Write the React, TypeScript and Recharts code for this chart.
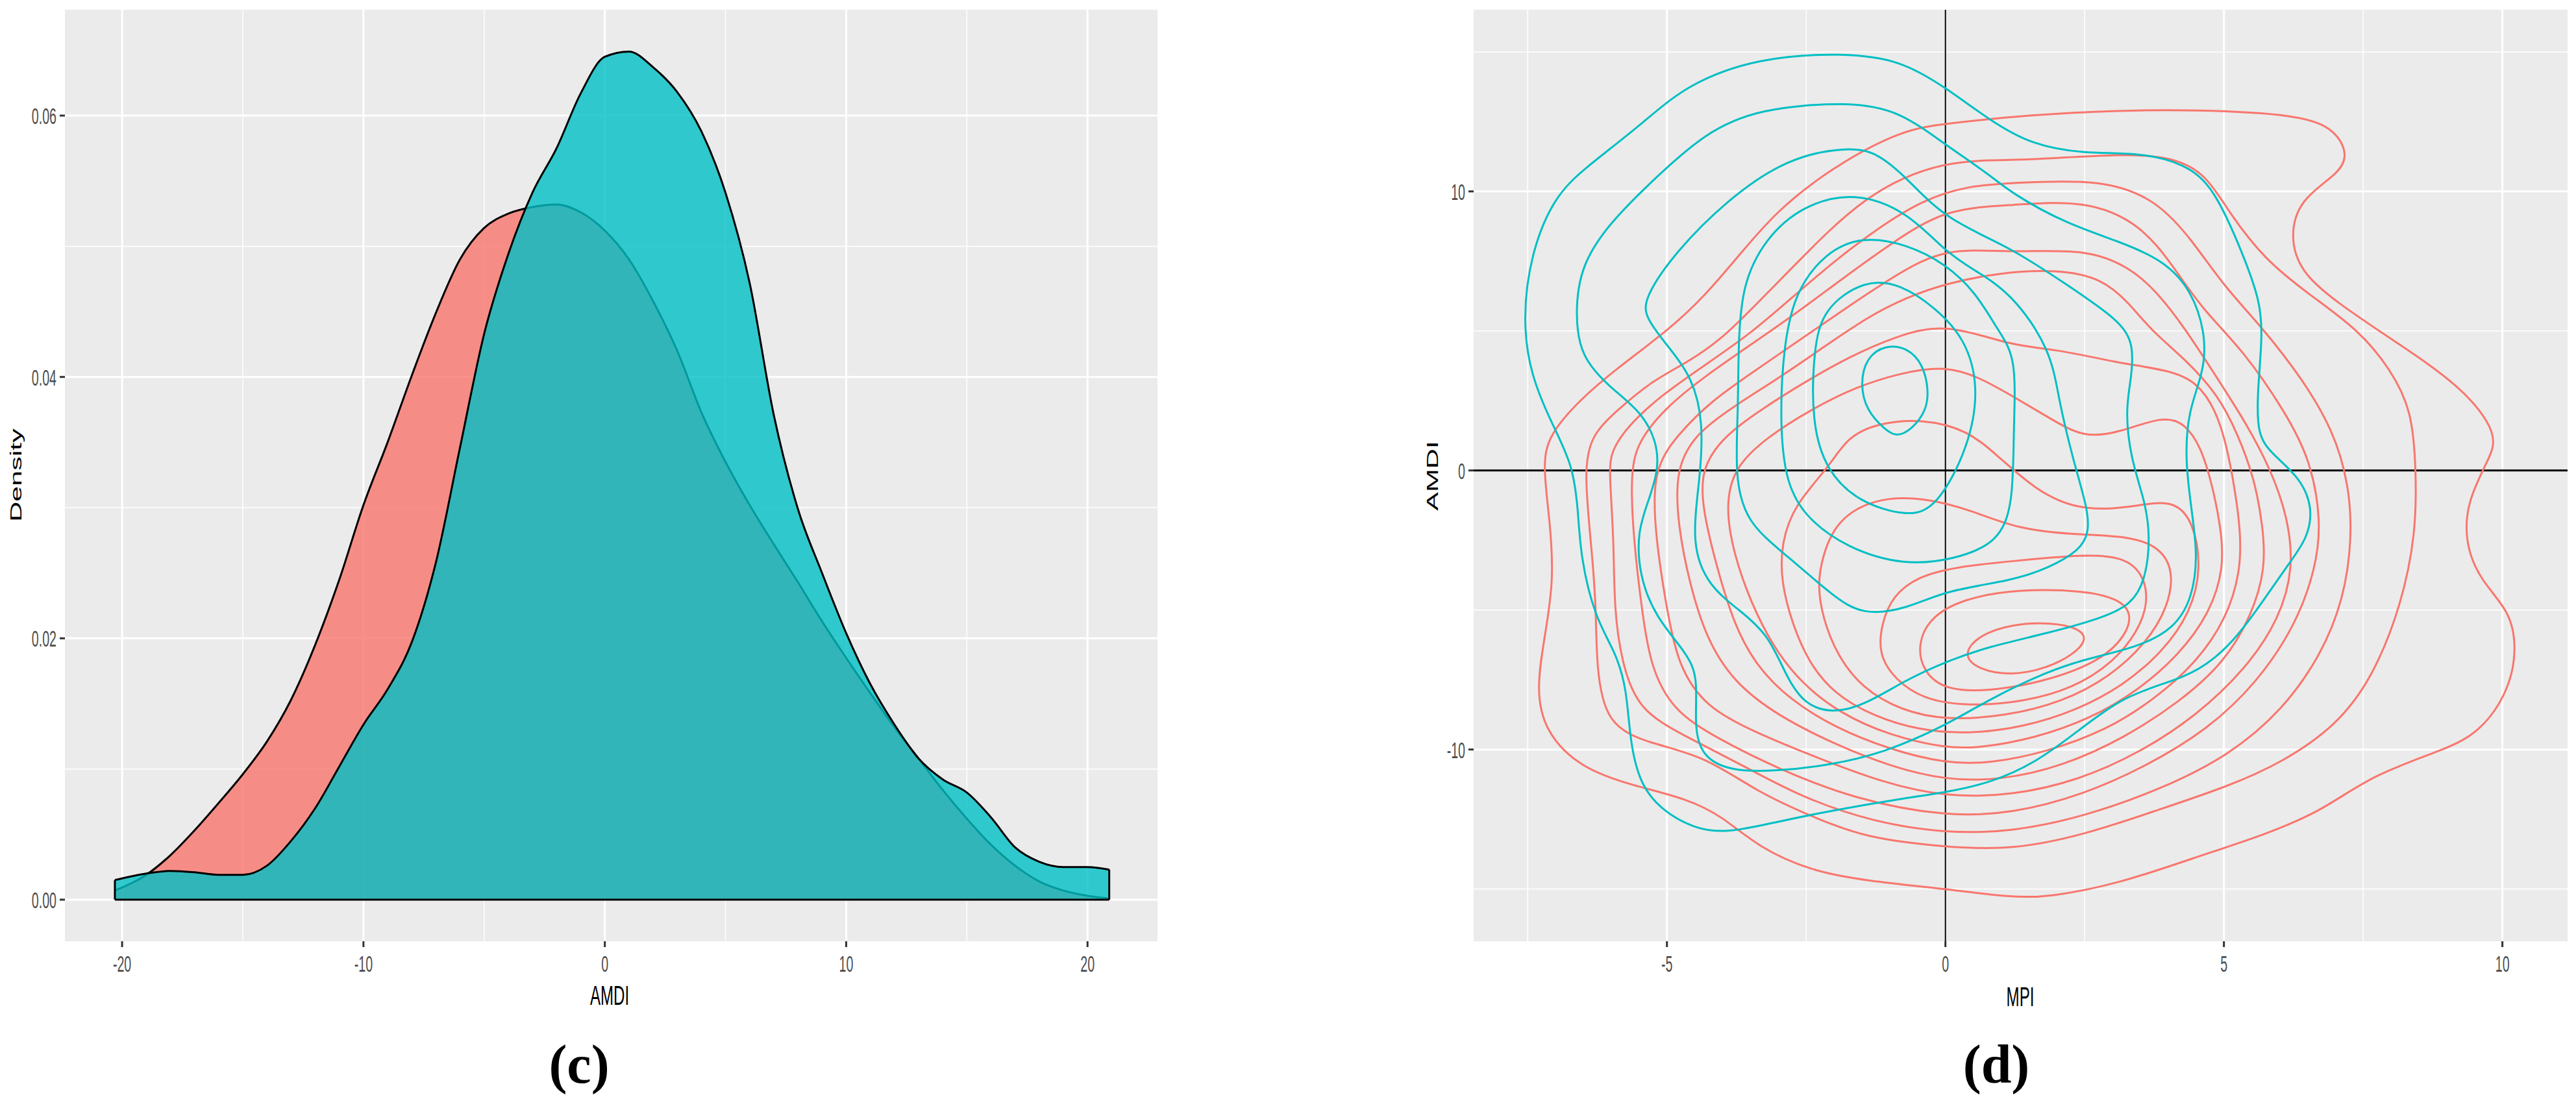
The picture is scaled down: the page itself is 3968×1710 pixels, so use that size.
import React from "react";
import {
  AreaChart,
  Area,
  ScatterChart,
  Scatter,
  XAxis,
  YAxis,
  CartesianGrid,
  ReferenceLine,
} from "recharts";

const SQUEEZE = 0.56;
const SANS = "'Liberation Sans', Arial, sans-serif";
const SERIF = "'Liberation Serif', 'Times New Roman', serif";
const TICK_GREY = "#4D4D4D";
const TICK_LINE = "#333333";
const PANEL_BG = "#EBEBEB";
const RED = "#F8766D";
const TEAL = "#00BFC4";

// ---- panel (c): density of AMDI ----
const AMDI_GRID = [
  -20.3, -19, -18, -17, -16, -15, -14, -13, -12, -11, -10, -9, -8, -7, -6, -5, -4, -3, -2, -1, 0,
  1, 2, 3, 4, 5, 6, 7, 8, 9, 10, 11, 12, 13, 14, 15, 16, 17, 18, 19, 20, 20.9,
];
const RED_DENSITY = [
  0.0007, 0.0019, 0.0034, 0.0053, 0.0074, 0.0096, 0.0121, 0.0153, 0.0195, 0.0245, 0.0302,
  0.035, 0.0401, 0.0449, 0.049, 0.0514, 0.0525, 0.053, 0.0532, 0.0526, 0.0512,
  0.049, 0.0458, 0.042, 0.0373, 0.0335, 0.0302, 0.0272, 0.0243, 0.0213, 0.0185,
  0.0158, 0.0132, 0.0108, 0.0084, 0.0062, 0.0042, 0.0026, 0.0014, 0.0007, 0.0003, 0.0001,
];
const TEAL_DENSITY = [
  0.0015, 0.002, 0.0022, 0.0021, 0.0019, 0.0019, 0.0026, 0.0045, 0.007, 0.0102, 0.0134,
  0.0161, 0.0197, 0.0258, 0.0346, 0.0433, 0.0494, 0.0541, 0.0575, 0.0617, 0.0645,
  0.0649, 0.0637, 0.0618, 0.0588, 0.0541, 0.0472, 0.0371, 0.0299, 0.025, 0.0204,
  0.0165, 0.0134, 0.0108, 0.0092, 0.0082, 0.0063, 0.004, 0.0029, 0.0025, 0.0025, 0.0023,
];
const C_X_TICKS = [-20, -10, 0, 10, 20];
const C_X_MINOR = [-15, -5, 5, 15];
const C_Y_TICKS = [0, 0.02, 0.04, 0.06];
const C_Y_MINOR = [0.01, 0.03, 0.05];

// ---- panel (d): 2d density contours, MPI vs AMDI ----
const RED_1 = [
  [-7.23, 0.17], [-7.13, 1.26], [-6.55, 2.56], [-5.91, 3.64], [-4.96, 5.05], [-4.32, 6.25], [-3.68, 7.77],
  [-3.04, 9.28], [-2.08, 10.8], [-0.8, 12.2], [0, 12.43], [1.55, 12.75], [3.13, 12.9], [4.43, 12.93],
  [6.37, 12.76], [7.02, 12.2], [7.24, 11.24], [7.02, 10.59], [6.37, 9.72], [6.18, 8.42], [6.37, 7.11],
  [7.02, 6.03], [7.99, 4.73], [9.29, 3.0], [9.94, 1.26], [9.75, 0.39], [9.36, -1.13], [9.33, -2.65],
  [9.61, -3.95], [10.13, -5.03], [10.26, -6.33], [10.13, -7.85], [9.61, -9.37], [8.97, -10.0],
  [7.67, -10.9], [6.76, -12.2], [5.73, -13.06], [4.43, -13.9], [3.13, -14.8], [1.84, -15.3],
  [1.19, -15.3], [0, -15.0], [-1.44, -14.7], [-2.4, -14.36], [-3.36, -13.5], [-4.0, -12.4],
  [-4.64, -11.76], [-5.6, -11.3], [-6.55, -10.67], [-7.19, -9.37], [-7.35, -7.85], [-7.19, -5.9],
  [-7.03, -3.95], [-7.1, -1.78],
];
const RED_2 = [
  [-6.49, 0], [-6.36, 1.26], [-5.91, 2.13], [-5.27, 3.21], [-4.64, 3.86], [-4.0, 4.73], [-3.36, 6.03],
  [-2.72, 7.33], [-2.08, 8.63], [-1.44, 9.72], [-0.8, 10.48], [0, 11.02], [0.8, 11.13], [1.55, 11.13],
  [3.13, 11.35], [4.1, 11.24], [4.69, 10.59], [5.08, 9.28], [5.73, 7.55], [6.57, 6.25], [7.41, 5.05],
  [7.99, 3.64], [8.38, 2.13], [8.45, 0], [8.45, -2.21], [8.19, -4.82], [7.67, -7.42], [7.02, -9.15],
  [6.05, -10.46], [5.08, -11.32], [3.78, -12.19], [2.49, -13.06], [1.19, -13.6], [0, -13.5],
  [-1.44, -13.17], [-2.4, -12.4], [-3.36, -11.54], [-4.32, -10.24], [-5.27, -9.8], [-6.1, -9.15],
  [-6.27, -6.98], [-6.27, -4.82], [-6.36, -2.65],
];
const RED_3 = [
  [-6.04, 0], [-6.0, 0.7], [-5.7, 1.6], [-5.1, 2.7], [-4.3, 3.8], [-3.5, 4.9], [-2.75, 6.2], [-2.0, 7.5],
  [-1.2, 8.7], [-0.4, 9.7], [0.4, 10.2], [1.2, 10.3], [2.8, 10.45], [3.8, 9.7], [4.45, 8.2], [5.0, 6.6],
  [5.7, 5.1], [6.4, 3.3], [6.95, 1.5], [7.25, -0.5], [7.3, -2.5], [7.15, -4.6], [6.75, -6.6], [6.05, -8.6],
  [5.1, -10.2], [3.9, -11.4], [2.5, -12.4], [1.2, -12.95], [0, -13.0], [-1.3, -12.6], [-2.6, -11.7],
  [-3.7, -10.5], [-4.7, -9.5], [-5.5, -8.6], [-5.8, -7.0], [-5.95, -5.0], [-5.95, -2.5],
];
const RED_4 = [
  [-5.66, 0], [-5.5, 1.1], [-5.0, 2.3], [-4.3, 3.4], [-3.5, 4.5], [-2.7, 5.6], [-1.9, 6.8], [-1.0, 8.1],
  [0, 9.4], [1.2, 9.5], [2.5, 9.7], [3.5, 8.85], [4.1, 7.3], [4.6, 5.8], [5.35, 4.3], [6.1, 2.1],
  [6.55, 0.4], [6.75, -1.8], [6.65, -3.5], [6.3, -5.5], [5.6, -7.6], [4.7, -9.3], [3.6, -10.6],
  [2.5, -11.6], [1.2, -12.3], [0, -12.4], [-1.6, -11.8], [-3.0, -10.7], [-4.1, -9.6], [-4.9, -8.6],
  [-5.3, -7.0], [-5.45, -5.0], [-5.6, -2.5],
];
const RED_5 = [
  [-5.27, 0], [-4.8, 1.3], [-4.2, 2.5], [-3.4, 3.6], [-2.6, 4.7], [-1.8, 5.8], [-0.9, 7.0], [0, 8.0],
  [1.2, 7.8], [2.5, 7.95], [3.3, 7.3], [3.8, 6.4], [4.3, 5.1], [4.85, 3.4], [5.4, 1.7], [5.85, 0],
  [6.15, -1.7], [6.25, -3.5], [6.0, -5.3], [5.4, -7.1], [4.5, -8.8], [3.5, -10.1], [2.4, -11.1],
  [1.2, -11.65], [0, -11.7], [-1.1, -11.2], [-2.3, -10.3], [-3.4, -9.4], [-4.3, -8.5], [-4.8, -7.0],
  [-5.0, -5.0], [-5.2, -2.5],
];
const RED_6 = [
  [-4.85, 0], [-4.5, 1.3], [-3.8, 2.3], [-3.0, 3.3], [-2.2, 4.4], [-1.4, 5.5], [-0.7, 6.2], [0, 6.7],
  [1.0, 7.1], [2.0, 7.2], [2.8, 6.9], [3.3, 6.0], [3.7, 5.0], [4.3, 4.0], [4.9, 2.7], [5.25, 1.3],
  [5.55, -0.3], [5.7, -2.0], [5.75, -3.5], [5.5, -5.2], [5.0, -6.9], [4.2, -8.3], [3.2, -9.6],
  [2.1, -10.6], [1.0, -11.1], [0, -11.1], [-1.0, -10.6], [-2.0, -9.8], [-3.0, -8.8], [-3.8, -7.6],
  [-4.3, -6.0], [-4.6, -4.0], [-4.8, -2.0],
];
const RED_7 = [
  [-4.4, 0], [-4.0, 1.2], [-3.3, 2.2], [-2.5, 3.2], [-1.7, 4.1], [-0.9, 4.8], [0, 5.3], [1.2, 4.45],
  [2.0, 4.35], [3.1, 3.85], [4.0, 3.6], [4.5, 3.2], [4.85, 2.2], [5.05, 0.9], [5.2, -0.7], [5.3, -2.2],
  [5.3, -3.6], [5.05, -5.3], [4.5, -6.9], [3.75, -8.2], [2.9, -9.3], [1.8, -10.1], [0.8, -10.5],
  [0, -10.5], [-1.0, -10.0], [-2.0, -9.2], [-2.8, -8.2], [-3.4, -7.0], [-3.8, -5.5], [-4.1, -3.5],
  [-4.35, -1.5],
];
const RED_8 = [
  [-3.8, 0.1], [-3.2, 1.2], [-2.4, 2.2], [-1.6, 3.0], [-0.8, 3.5], [0, 3.75], [0.6, 3.35], [1.2, 2.67],
  [1.84, 1.91], [2.49, 1.15], [3.13, 1.37], [3.91, 1.95], [4.3, 1.7], [4.6, 0.8], [4.8, -0.6],
  [4.95, -2.1], [5.0, -3.5], [4.75, -5.1], [4.2, -6.6], [3.45, -7.9], [2.6, -8.9], [1.6, -9.6],
  [0.6, -9.95], [0, -9.95], [-1.0, -9.5], [-1.9, -8.7], [-2.6, -7.6], [-3.1, -6.3], [-3.5, -4.7],
  [-3.8, -3.0], [-3.95, -1.3],
];
const RED_9 = [
  [-2.1, 0.1], [-1.76, 1.2], [-1.22, 1.7], [-0.4, 1.85], [0.4, 1.45], [0.95, 0.5], [1.62, -0.7],
  [2.3, -1.35], [3.0, -1.4], [3.6, -1.2], [4.1, -1.1], [4.45, -1.8], [4.6, -3.5], [4.4, -5.1],
  [3.9, -6.5], [3.2, -7.7], [2.35, -8.6], [1.4, -9.2], [0.4, -9.45], [-0.5, -9.3], [-1.3, -8.8],
  [-2.0, -8.0], [-2.45, -6.9], [-2.75, -5.5], [-2.95, -4.0], [-2.95, -2.6], [-2.7, -1.2],
];
const RED_10 = [
  [-2.2, -3.0], [-1.95, -1.8], [-1.3, -1.0], [-0.4, -0.95], [0.5, -1.45], [1.3, -2.1], [2.3, -2.3],
  [3.3, -2.35], [3.85, -2.75], [4.1, -3.6], [4.0, -4.9], [3.6, -6.2], [2.95, -7.4], [2.1, -8.3],
  [1.1, -8.8], [0, -8.95], [-0.8, -8.6], [-1.5, -7.8], [-1.95, -6.6], [-2.2, -5.3], [-2.3, -4.1],
];
const RED_11 = [
  [-1.2, -6.6], [-1.15, -5.5], [-0.95, -4.5], [-0.5, -3.8], [0.2, -3.45], [1.2, -3.25], [2.5, -3.0],
  [3.2, -3.1], [3.55, -3.7], [3.65, -4.7], [3.45, -5.8], [3.0, -6.9], [2.3, -7.8], [1.4, -8.3],
  [0.4, -8.45], [-0.4, -8.2], [-0.9, -7.5],
];
const RED_12 = [
  [-0.5, -6.3], [-0.3, -5.3], [0.3, -4.6], [1.3, -4.25], [2.5, -4.3], [3.1, -4.6], [3.35, -5.1],
  [3.25, -5.9], [2.8, -6.8], [1.9, -7.5], [0.9, -7.9], [0, -7.9], [-0.4, -7.2],
];
const RED_13 = [
  [0.3, -6.6], [0.6, -5.9], [1.2, -5.5], [1.9, -5.45], [2.4, -5.65], [2.55, -6.05], [2.3, -6.6],
  [1.8, -7.1], [1.2, -7.35], [0.6, -7.15],
];

const TEAL_1 = [
  [-1.82, 14.97], [-3.36, 14.8], [-4.64, 13.84], [-5.4, 12.5], [-6.36, 11.0], [-7.0, 9.93], [-7.45, 7.77],
  [-7.59, 5.38], [-7.45, 3.43], [-7.07, 1.69], [-6.68, 0.17], [-6.59, -1.56], [-6.55, -3.08], [-6.3, -5.25],
  [-5.91, -6.55], [-5.72, -7.85], [-5.66, -9.8], [-5.47, -11.3], [-5.08, -12.2], [-4.5, -12.84],
  [-3.93, -13.0], [-3.04, -12.6], [-2.08, -12.2], [-0.8, -11.76], [0, -11.54], [0.8, -11.2], [1.6, -10.5],
  [2.36, -9.37], [3.13, -8.18], [3.91, -7.64], [4.56, -7.2], [5.2, -6.1], [5.73, -4.6], [6.18, -3.3],
  [6.5, -2.43], [6.6, -1.35], [6.37, -0.26], [5.86, 0.6], [5.6, 1.26], [5.6, 2.78], [5.69, 4.73],
  [5.66, 6.03], [5.34, 7.77], [4.82, 10.15], [4.3, 11.0], [3.46, 11.4], [2.49, 11.35], [1.55, 11.67],
  [0.8, 12.54], [0, 13.73], [-0.8, 14.7],
];
const TEAL_2 = [
  [-1.69, 13.23], [-3.36, 12.97], [-4.32, 12.1], [-5.27, 10.37], [-6.04, 8.85], [-6.55, 7.33], [-6.65, 5.6],
  [-6.55, 4.08], [-6.04, 3.0], [-5.47, 2.13], [-5.18, 1.04], [-5.15, 0], [-5.34, -1.13], [-5.53, -2.21],
  [-5.5, -3.73], [-5.21, -5.25], [-4.64, -6.55], [-4.44, -7.42], [-4.51, -9.15], [-4.38, -10.24],
  [-3.87, -10.78], [-3.04, -10.78], [-2.08, -10.56], [-1.12, -10.13], [0, -9.15], [0.8, -8.18],
  [1.84, -7.2], [2.49, -6.77], [3.46, -6.33], [4.1, -5.68], [4.43, -4.6], [4.53, -3.08], [4.43, -1.56],
  [4.3, 0.39], [4.36, 2.13], [4.62, 3.43], [4.69, 4.73], [4.43, 6.46], [3.9, 7.55], [3.13, 8.2],
  [2.16, 8.85], [1.19, 9.93], [0.8, 10.59], [0, 11.67], [-0.8, 12.86],
];
const TEAL_3 = [
  [-1.76, 11.6], [-2.84, 11.2], [-3.92, 9.7], [-4.86, 7.8], [-5.4, 6.2], [-5.4, 5.5], [-5.0, 4.5],
  [-4.53, 3.3], [-4.35, 1.7], [-4.4, -0.2], [-4.57, -2.65], [-4.25, -4.16], [-3.68, -5.03], [-3.17, -5.9],
  [-2.85, -7.42], [-2.53, -8.39], [-2.01, -8.72], [-1.4, -8.35], [-0.75, -7.55], [0, -6.85], [0.8, -6.3],
  [1.8, -5.85], [2.8, -5.3], [3.33, -4.82], [3.59, -3.95], [3.68, -2.43], [3.59, -1.13], [3.33, 0.39],
  [3.23, 2.13], [3.33, 3.21], [3.39, 4.51], [3.13, 5.38], [2.16, 6.68], [1.19, 7.98], [0, 9.0],
  [-0.68, 10.45], [-1.22, 11.4],
];
const TEAL_4 = [
  [-1.62, 10.0], [-2.57, 9.5], [-3.24, 8.3], [-3.65, 6.66], [-3.72, 4.5], [-3.72, 2.15], [-3.78, -0.2],
  [-3.58, -1.87], [-2.84, -3.06], [-2.03, -4.48], [-1.49, -5.2], [-0.68, -4.95], [0, -4.3], [1.19, -3.95],
  [1.84, -3.51], [2.42, -2.86], [2.58, -2.2], [2.55, -1.34], [2.29, 0.39], [2.03, 2.56], [1.9, 4.3],
  [1.19, 6.36], [0.5, 7.2], [0, 7.84], [-0.68, 9.27],
];
const TEAL_5 = [
  [-1.5, 8.4], [-2.16, 7.8], [-2.7, 6.4], [-2.9, 4.5], [-2.97, 2.15], [-2.9, -0.2], [-2.57, -1.6],
  [-1.76, -2.8], [-0.74, -3.4], [0.14, -3.2], [0.95, -2.6], [1.22, -1.2], [1.22, 1.45], [1.28, 4.05],
  [0.95, 5.0], [0.54, 6.4], [0, 7.4], [-0.68, 8.1],
];
const TEAL_6 = [
  [-1.44, 6.85], [-2.2, 5.81], [-2.37, 4.3], [-2.4, 1.69], [-2.14, 0], [-1.57, -1.13], [-0.67, -1.67],
  [-0.16, -1.34], [0.42, 0.82], [0.61, 3.0], [0.35, 4.73], [-0.16, 5.8], [-0.8, 6.68],
];
const TEAL_7 = [
  [-1.08, 4.5], [-1.42, 4.05], [-1.53, 3.1], [-1.42, 2.15], [-1.08, 1.45], [-0.88, 1.2], [-0.61, 1.45],
  [-0.34, 2.15], [-0.3, 2.87], [-0.4, 3.8], [-0.68, 4.4],
];

const RED_CONTOURS = [RED_1, RED_2, RED_3, RED_4, RED_5, RED_6, RED_7, RED_8, RED_9, RED_10, RED_11, RED_12, RED_13];
const TEAL_CONTOURS = [TEAL_1, TEAL_2, TEAL_3, TEAL_4, TEAL_5, TEAL_6, TEAL_7];

const D_X_TICKS = [-5, 0, 5, 10];
const D_X_MINOR = [-7.5, -2.5, 2.5, 7.5];
const D_Y_TICKS = [-10, 0, 10];
const D_Y_MINOR = [-15, -5, 5, 15];

const densityRows = AMDI_GRID.map((x, i) => ({ x, red: RED_DENSITY[i], teal: TEAL_DENSITY[i] }));
const toPoints = (ring: number[][]) => ring.map(([x, y]) => ({ x, y }));

const squeeze = (x: number, y: number) => `translate(${x},${y}) scale(${SQUEEZE},1)`;

function BottomTick({ x, y, payload }: any) {
  return (
    <text transform={squeeze(x, y + 34)} textAnchor="middle" fontFamily={SANS} fontSize={35} fill={TICK_GREY}>
      {String(payload.value)}
    </text>
  );
}

function DensityTick({ x, y, payload }: any) {
  return (
    <text transform={squeeze(x, y + 13)} textAnchor="end" fontFamily={SANS} fontSize={35} fill={TICK_GREY}>
      {Number(payload.value).toFixed(2)}
    </text>
  );
}

function PlainLeftTick({ x, y, payload }: any) {
  return (
    <text transform={squeeze(x, y + 13)} textAnchor="end" fontFamily={SANS} fontSize={35} fill={TICK_GREY}>
      {String(payload.value)}
    </text>
  );
}

const noDot = () => <g />;

function Title({ x, y, text, rotate }: { x: number; y: number; text: string; rotate?: boolean }) {
  return (
    <div
      style={{
        position: "absolute",
        left: x,
        top: y,
        fontFamily: SANS,
        fontSize: 43,
        lineHeight: 1,
        color: "#000",
        whiteSpace: "nowrap",
        transform: `translate(-50%,-50%) scaleX(${SQUEEZE})${rotate ? " rotate(-90deg)" : ""}`,
      }}
    >
      {text}
    </div>
  );
}

function Caption({ x, y, text }: { x: number; y: number; text: string }) {
  return (
    <div
      style={{
        position: "absolute",
        left: x,
        top: y,
        fontFamily: SERIF,
        fontWeight: "bold",
        fontSize: 84,
        lineHeight: 1,
        color: "#000",
        whiteSpace: "nowrap",
        transform: "translate(-50%,-50%)",
      }}
    >
      {text}
    </div>
  );
}

function DensityPanel() {
  const first = AMDI_GRID[0];
  const last = AMDI_GRID[AMDI_GRID.length - 1];
  return (
    <div style={{ position: "absolute", left: 0, top: 0 }}>
      <AreaChart width={1800} height={1710} data={densityRows} margin={{ top: 15, right: 17, bottom: 0, left: 0 }}>
        <CartesianGrid
          fill={PANEL_BG}
          fillOpacity={1}
          stroke="#FFFFFF"
          strokeWidth={1.5}
          verticalValues={C_X_MINOR}
          horizontalValues={C_Y_MINOR}
        />
        <CartesianGrid stroke="#FFFFFF" strokeWidth={3} verticalValues={C_X_TICKS} horizontalValues={C_Y_TICKS} />
        <XAxis
          dataKey="x"
          type="number"
          domain={[-22.37, 22.9]}
          ticks={C_X_TICKS}
          allowDataOverflow
          height={260}
          axisLine={false}
          tickSize={9}
          tickMargin={4}
          tickLine={{ stroke: TICK_LINE, strokeWidth: 3 }}
          tick={BottomTick}
        />
        <YAxis
          type="number"
          domain={[-0.00318, 0.0681]}
          ticks={C_Y_TICKS}
          allowDataOverflow
          width={100}
          axisLine={false}
          tickSize={8}
          tickMargin={5}
          tickLine={{ stroke: TICK_LINE, strokeWidth: 3 }}
          tick={DensityTick}
        />
        <Area
          type="monotone"
          dataKey="red"
          stroke="#000000"
          strokeWidth={3}
          fill={RED}
          fillOpacity={0.8}
          dot={false}
          activeDot={false}
          isAnimationActive={false}
        />
        <Area
          type="monotone"
          dataKey="teal"
          stroke="#000000"
          strokeWidth={3}
          fill={TEAL}
          fillOpacity={0.8}
          dot={false}
          activeDot={false}
          isAnimationActive={false}
        />
        <ReferenceLine segment={[{ x: first, y: 0 }, { x: last, y: 0 }]} stroke="#000000" strokeWidth={3} />
        <ReferenceLine segment={[{ x: first, y: 0 }, { x: first, y: TEAL_DENSITY[0] }]} stroke="#000000" strokeWidth={3} />
        <ReferenceLine
          segment={[{ x: last, y: 0 }, { x: last, y: TEAL_DENSITY[TEAL_DENSITY.length - 1] }]}
          stroke="#000000"
          strokeWidth={3}
        />
      </AreaChart>
    </div>
  );
}

function ContourPanel() {
  return (
    <div style={{ position: "absolute", left: 2170, top: 0 }}>
      <ScatterChart width={1798} height={1710} margin={{ top: 15, right: 13, bottom: 0, left: 0 }}>
        <CartesianGrid
          fill={PANEL_BG}
          fillOpacity={1}
          stroke="#FFFFFF"
          strokeWidth={1.5}
          verticalValues={D_X_MINOR}
          horizontalValues={D_Y_MINOR}
        />
        <CartesianGrid stroke="#FFFFFF" strokeWidth={3} verticalValues={D_X_TICKS} horizontalValues={D_Y_TICKS} />
        <XAxis
          dataKey="x"
          type="number"
          domain={[-8.47, 11.17]}
          ticks={D_X_TICKS}
          allowDataOverflow
          height={260}
          axisLine={false}
          tickSize={9}
          tickMargin={4}
          tickLine={{ stroke: TICK_LINE, strokeWidth: 3 }}
          tick={BottomTick}
        />
        <YAxis
          dataKey="y"
          type="number"
          domain={[-16.87, 16.51]}
          ticks={D_Y_TICKS}
          allowDataOverflow
          width={100}
          axisLine={false}
          tickSize={8}
          tickMargin={5}
          tickLine={{ stroke: TICK_LINE, strokeWidth: 3 }}
          tick={PlainLeftTick}
        />
        {RED_CONTOURS.map((ring, i) => (
          <Scatter
            key={`red-${i}`}
            data={toPoints(ring)}
            fill={RED}
            line={{ stroke: RED, strokeWidth: 3 }}
            lineJointType="basisClosed"
            shape={noDot}
            isAnimationActive={false}
          />
        ))}
        {TEAL_CONTOURS.map((ring, i) => (
          <Scatter
            key={`teal-${i}`}
            data={toPoints(ring)}
            fill={TEAL}
            line={{ stroke: TEAL, strokeWidth: 3 }}
            lineJointType="basisClosed"
            shape={noDot}
            isAnimationActive={false}
          />
        ))}
        <ReferenceLine x={0} stroke="#000000" strokeWidth={2} />
        <ReferenceLine y={0} stroke="#000000" strokeWidth={3} />
      </ScatterChart>
    </div>
  );
}

export default function App() {
  return (
    <div style={{ position: "relative", width: 3968, height: 1710, background: "#FFFFFF", overflow: "hidden" }}>
      <style>{"body{margin:0}"}</style>
      <DensityPanel />
      <ContourPanel />
      <Title x={25} y={732} text="Density" rotate />
      <Title x={939} y={1533} text="AMDI" />
      <Title x={2207} y={733} text="AMDI" rotate />
      <Title x={3112} y={1535} text="MPI" />
      <Caption x={892} y={1640} text="(c)" />
      <Caption x={3075} y={1640} text="(d)" />
    </div>
  );
}
